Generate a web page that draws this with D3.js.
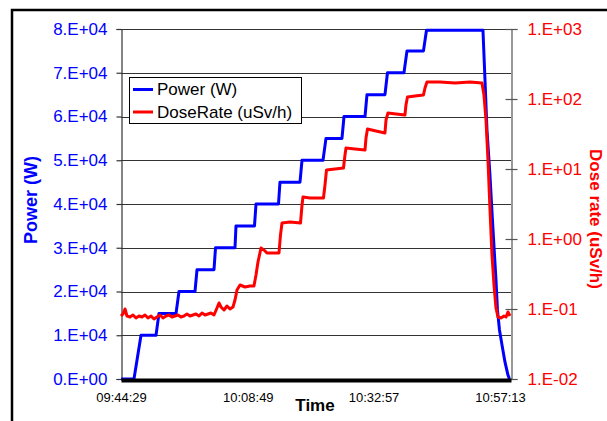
<!DOCTYPE html>
<html>
<head>
<meta charset="utf-8">
<script src="https://cdn.jsdelivr.net/npm/d3@7"></script>
<style>
  html, body { margin: 0; padding: 0; background: #fff; }
  svg { display: block; font-family: "Liberation Sans", Arial, sans-serif; }
</style>
</head>
<body>
<svg id="chart" width="607" height="421"></svg>
<script>
// ---------------- data (elapsed minutes since 09:44:29) ----------------
const timeTickMinutes = [0, 24.333, 48.467, 72.733];
const timeTickLabels = ["09:44:29", "10:08:49", "10:32:57", "10:57:13"];
const powerTicks = [0, 10000, 20000, 30000, 40000, 50000, 60000, 70000, 80000];
const doseTicks = [0.01, 0.1, 1, 10, 100, 1000];
const seriesNames = ["Power (W)", "DoseRate (uSv/h)"];

const powerTime = [0, 2.49, 3.84, 6.72, 7.29, 10.56, 11.13, 14.20, 14.59, 17.85,
  18.14, 21.88, 22.07, 25.62, 25.91, 30.23, 30.51, 34.35, 34.74, 38.77,
  39.34, 42.41, 42.80, 46.83, 47.21, 50.66, 51.14, 54.31, 54.89, 58.05,
  58.63, 69.47, 69.86, 70.24, 70.81, 71.29, 71.68, 71.97, 72.25, 72.64,
  73.12, 73.69, 74.27, 74.56];
const powerW = [0, 0, 10000, 10000, 15000, 15000, 20000, 20000, 25000, 25000,
  30000, 30000, 35000, 35000, 40000, 40000, 45000, 45000, 50000, 50000,
  55000, 55000, 60000, 60000, 65000, 65000, 70000, 70000, 75000, 75000,
  79700, 79700, 68300, 56900, 46600, 36300, 28300, 22600, 15800, 11200,
  7800, 3900, 900, 0];

const doseTime = [0, 0.38, 0.77, 1.15, 1.73, 2.30, 2.88, 3.45, 4.03, 4.61,
  5.18, 5.76, 6.33, 6.91, 7.48, 8.06, 8.64, 9.21, 9.79, 10.36,
  10.94, 11.51, 12.09, 12.67, 13.24, 13.82, 14.39, 14.97, 15.55, 16.12,
  16.70, 17.27, 17.85, 18.42, 18.81, 19.19, 19.77, 20.34, 20.92, 21.49,
  21.88, 22.26, 22.84, 23.80, 24.76, 25.52, 25.91, 26.29, 26.87, 27.44,
  28.02, 29.17, 30.32, 30.61, 30.90, 32.43, 34.45, 34.74, 34.93, 36.27,
  37.81, 38.86, 39.15, 39.44, 41.07, 42.70, 42.99, 43.18, 44.91, 46.83,
  47.02, 47.31, 48.94, 50.66, 50.86, 51.24, 52.78, 54.50, 54.69, 54.98,
  56.42, 58.05, 58.34, 58.72, 61.22, 64.10, 66.98, 69.28, 69.66, 70.05,
  70.43, 70.82, 71.20, 71.58, 71.97, 72.35, 72.93, 73.50, 73.89, 74.27,
  74.65];
const doseRate = [0.0794, 0.0849, 0.1, 0.0794, 0.0769, 0.0821, 0.0744, 0.0794, 0.0769, 0.0821,
  0.0744, 0.0794, 0.0720, 0.0769, 0.0821, 0.0744, 0.0794, 0.0821, 0.0769, 0.0794,
  0.0821, 0.0769, 0.0794, 0.0849, 0.0794, 0.0821, 0.0849, 0.0794, 0.0877, 0.0821,
  0.0849, 0.0877, 0.0821, 0.1033, 0.1218, 0.1068, 0.0968, 0.1104, 0.1, 0.1068,
  0.1345, 0.1868, 0.2203, 0.2062, 0.2131, 0.2131, 0.306, 0.469, 0.744, 0.696,
  0.631, 0.631, 0.631, 1.141, 1.692, 1.749, 1.692, 3.06, 3.98, 3.85,
  3.85, 3.85, 5.91, 9.67, 10.0, 10.33, 15.85, 19.95, 19.31, 18.68,
  27.7, 37.28, 34.9, 32.7, 50.1, 63.1, 61.1, 59.1, 82.1, 106.8,
  110.4, 114.1, 143.6, 174.9, 174.9, 169.3, 174.9, 169.3, 114.1, 50.1,
  13.45, 2.596, 0.591, 0.2203, 0.1033, 0.0769, 0.0744, 0.0794, 0.0769, 0.0906,
  0.0794];

// ---------------- layout ----------------
const svg = d3.select("#chart");
const L = 121, R = 511, T = 29, B = 379;
const FONT = 17;
const BLUE = "#0000ff", RED = "#ff0000";

const x = d3.scaleLinear().domain([0, 74.85]).range([L, R]);
const yP = d3.scaleLinear().domain([0, 80000]).range([B, T]);
const yD = d3.scaleLog().domain([0.01, 1000]).range([B, T]);

function sci(d) {
  if (d === 0) return "0.E+00";
  const e = Math.floor(Math.log10(d) + 1e-9);
  const m = Math.round(d / Math.pow(10, e));
  const ae = Math.abs(e);
  return m + ".E" + (e < 0 ? "-" : "+") + (ae < 10 ? "0" : "") + ae;
}

// outer frame
svg.append("rect").attr("x", 12).attr("y", 10).attr("width", 700).attr("height", 500)
  .attr("fill", "none").attr("stroke", "#000").attr("stroke-width", 2.5);

// gridlines
svg.append("g").selectAll("line").data(powerTicks.filter(d => d > 0)).join("line")
  .attr("x1", L).attr("x2", R)
  .attr("y1", d => Math.round(yP(d)) + 0.5).attr("y2", d => Math.round(yP(d)) + 0.5)
  .attr("stroke", "#333").attr("stroke-width", 1.2);

// left axis
const gl = svg.append("g").attr("transform", `translate(${L + 0.5},0)`)
  .call(d3.axisLeft(yP).tickValues(powerTicks).tickFormat(sci).tickSize(5).tickPadding(9));
gl.select(".domain").attr("stroke", "#333").attr("stroke-width", 1.2);
gl.selectAll(".tick line").attr("stroke", "#333").attr("stroke-width", 1.2);
gl.selectAll(".tick text").attr("fill", BLUE).style("font-size", FONT + "px")
  .style("font-family", "'Liberation Sans', Arial, sans-serif");

// right axis
const gr = svg.append("g").attr("transform", `translate(${R + 0.5},0)`)
  .call(d3.axisRight(yD).tickValues(doseTicks).tickFormat(sci).tickSize(6).tickPadding(10));
gr.select(".domain").attr("stroke", "#555").attr("stroke-width", 1.2);
gr.selectAll(".tick line").attr("x1", -6).attr("x2", 6).attr("stroke", "#555").attr("stroke-width", 1.2);
gr.selectAll(".tick text").attr("fill", RED).style("font-size", FONT + "px")
  .style("font-family", "'Liberation Sans', Arial, sans-serif");

// series
const powerData = powerTime.map((t, i) => [t, powerW[i]]);
const doseData = doseTime.map((t, i) => [t, doseRate[i]]);

svg.append("path").datum(powerData)
  .attr("fill", "none").attr("stroke", BLUE).attr("stroke-width", 3).attr("stroke-linejoin", "round")
  .attr("d", d3.line().x(d => x(d[0])).y(d => yP(d[1])));

svg.append("path").datum(doseData)
  .attr("fill", "none").attr("stroke", RED).attr("stroke-width", 3).attr("stroke-linejoin", "round")
  .attr("d", d3.line().x(d => x(d[0])).y(d => yD(d[1])));

// bottom (time) axis
const gb = svg.append("g").attr("transform", `translate(0,${B + 1})`)
  .call(d3.axisBottom(x).tickValues(timeTickMinutes).tickFormat((d, i) => timeTickLabels[i]).tickSize(0).tickPadding(13));
gb.select(".domain").attr("stroke", "#000").attr("stroke-width", 4);
gb.selectAll(".tick text").attr("fill", "#000").style("font-size", "13px")
  .style("font-family", "'Liberation Sans', Arial, sans-serif");

// axis titles
svg.append("text").attr("x", 315).attr("y", 411).attr("text-anchor", "middle")
  .style("font-size", FONT + "px").style("font-weight", "bold").attr("fill", "#000").text("Time");

svg.append("text").attr("transform", "translate(37,200) rotate(-90)").attr("text-anchor", "middle")
  .style("font-size", "18px").style("font-weight", "bold").attr("fill", BLUE).text("Power (W)");

svg.append("text").attr("transform", "translate(590,219) rotate(90)").attr("text-anchor", "middle")
  .style("font-size", FONT + "px").style("font-weight", "bold").attr("fill", RED).text("Dose rate (uSv/h)");

// legend
const lg = svg.append("g");
lg.append("rect").attr("x", 129.5).attr("y", 77.5).attr("width", 172).attr("height", 46)
  .attr("fill", "#fff").attr("stroke", "#000").attr("stroke-width", 1);
const colors = [BLUE, RED];
seriesNames.forEach((name, i) => {
  const yy = 89.5 + i * 22.5;
  lg.append("line").attr("x1", 133).attr("x2", 153).attr("y1", yy).attr("y2", yy)
    .attr("stroke", colors[i]).attr("stroke-width", 3);
  lg.append("text").attr("x", 157).attr("y", yy).attr("dy", "0.35em")
    .style("font-size", FONT + "px").attr("fill", "#000").text(name);
});
</script>
</body>
</html>
